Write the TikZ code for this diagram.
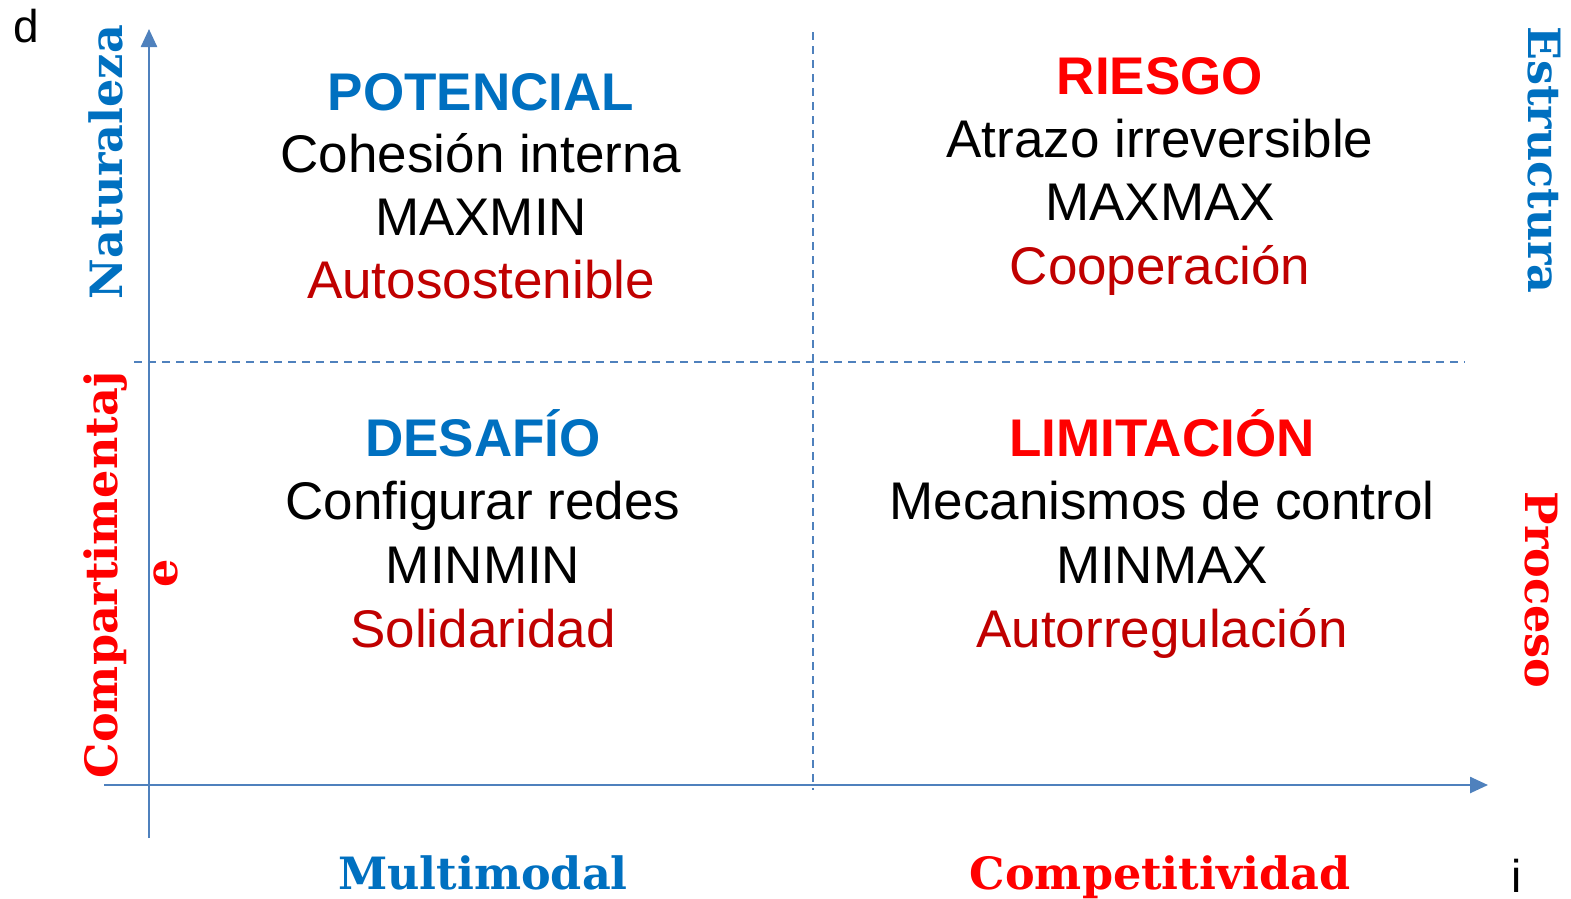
\documentclass[tikz,border=0pt]{standalone}
\usepackage{fontspec}
\setmainfont{Liberation Sans}
\newfontfamily\labserif{DejaVu Serif}
\usetikzlibrary{arrows.meta}
\definecolor{axisblue}{HTML}{4F81BD}
\definecolor{hblue}{HTML}{0070C0}
\definecolor{hred}{HTML}{FF0000}
\definecolor{dred}{HTML}{C00000}
\tikzset{
  axisline/.style={draw=axisblue, line width=2.5pt, -{Triangle[length=18pt,width=16pt]}},
  divline/.style={draw=axisblue, line width=2.2pt, dash pattern=on 8pt off 6pt},
  txt/.style={inner sep=0pt, anchor=base, font=\fontsize{53}{60}\selectfont},
  head/.style={txt, font=\fontsize{53}{60}\selectfont\bfseries},
  lab/.style={inner sep=0pt, font=\fontsize{44.5}{50}\selectfont\labserif\bfseries},
  corner/.style={inner sep=0pt, anchor=base, font=\fontsize{46}{52}\selectfont},
}
\begin{document}
\begin{tikzpicture}[x=1pt,y=-1pt]
\useasboundingbox (0,0) rectangle (1571,898);
% axes
\coordinate (ybot) at (149,838);
\coordinate (ytop) at (149,29);
\coordinate (xleft) at (104,785);
\coordinate (xright) at (1488,785);
\draw[axisline] (ybot) -- (ytop);
\draw[axisline] (xleft) -- (xright);
% dividers
\coordinate (hl) at (134,362);
\coordinate (hr) at (1465,362);
\coordinate (vt) at (813,32);
\coordinate (vb) at (813,790);
\draw[divline] (hl) -- (hr);
\draw[divline] (vt) -- (vb);
% corner letters
\node[corner] (d) at (26,42) {d};
\node[corner] (i) at (1517,892) {i};
% quadrant top-left
\node[head, text=hblue] (q1a) at (481,110) {POTENCIAL};
\node[txt] (q1b) at (481,172) {Cohesión interna};
\node[txt] (q1c) at (481,235) {MAXMIN};
\node[txt, text=dred] (q1d) at (481,298) {Autosostenible};
% quadrant top-right
\node[head, text=hred] (q2a) at (1160,94) {RIESGO};
\node[txt] (q2b) at (1160,157) {Atrazo irreversible};
\node[txt] (q2c) at (1160,220) {MAXMAX};
\node[txt, text=dred] (q2d) at (1160,284) {Cooperación};
% quadrant bottom-left
\node[head, text=hblue] (q3a) at (483,456) {DESAFÍO};
\node[txt] (q3b) at (483,519) {Configurar redes};
\node[txt] (q3c) at (483,583) {MINMIN};
\node[txt, text=dred] (q3d) at (483,647) {Solidaridad};
% quadrant bottom-right
\node[head, text=hred] (q4a) at (1162,456) {LIMITACIÓN};
\node[txt] (q4b) at (1162,519) {Mecanismos de control};
\node[txt] (q4c) at (1162,583) {MINMAX};
\node[txt, text=dred] (q4d) at (1162,647) {Autorregulación};
% side labels
\node[lab, text=hblue, rotate=90] (nat) at (106,162) {Naturaleza};
\node[lab, text=hred, rotate=90] (comp) at (106,575) {Compartimentaj};
\node[lab, text=hred, rotate=90] (compe) at (166,573) {e};
\node[lab, text=hblue, rotate=-90] (est) at (1544,160) {Estructura};
\node[lab, text=hred, rotate=-90] (pro) at (1541,590) {Proceso};
\node[lab, text=hblue, anchor=base] (mul) at (483,889) {Multimodal};
\node[lab, text=hred, anchor=base] (com) at (1160,889) {Competitividad};
\end{tikzpicture}
\end{document}
